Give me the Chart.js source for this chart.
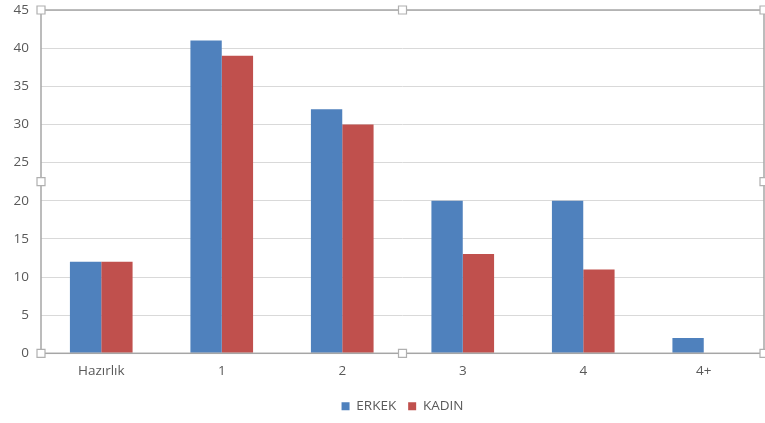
<!DOCTYPE html>
<html><head><meta charset="utf-8">
<script src="https://cdn.jsdelivr.net/npm/chart.js@4"></script>
<style>html,body{margin:0;padding:0;background:#fff;}#wrap{width:765px;height:423px;}</style>
</head><body><div id="wrap"><canvas id="c"></canvas></div>
<script>
const categories = ["Hazırlık", "1", "2", "3", "4", "4+"];
const erkek = [12, 41, 32, 20, 20, 2];
const kadin = [12, 39, 30, 13, 11, 0];
const seriesNames = ["ERKEK", "KADIN"];

const framePlugin = {
  id: 'frame',
  beforeDraw(chart) {
    const a = chart.chartArea, lg = chart.legend;
    if (lg && !lg._shifted) {
      const shift = (a.left + a.right) / 2 - (lg.left + lg.right) / 2;
      lg.left += shift; lg.right += shift; lg._shifted = true;
    }
  },
  afterDraw(chart) {
    const a = chart.chartArea, ctx = chart.ctx;
    ctx.save();
    ctx.strokeStyle = '#a6a6a6';
    ctx.lineWidth = 1.5;
    ctx.strokeRect(a.left, a.top, a.right - a.left, a.bottom - a.top);
    const mx = (a.left + a.right) / 2, my = (a.top + a.bottom) / 2;
    const pts = [[a.left,a.top],[mx,a.top],[a.right,a.top],[a.left,my],[a.right,my],[a.left,a.bottom],[mx,a.bottom],[a.right,a.bottom]];
    ctx.fillStyle = '#fff';
    ctx.strokeStyle = '#b0b0b0';
    ctx.lineWidth = 1.2;
    for (const [x,y] of pts) {
      ctx.beginPath();
      ctx.rect(x - 4, y - 4, 8, 8);
      ctx.fill(); ctx.stroke();
    }
    ctx.restore();
  }
};

const tickFont = { family: 'Open Sans', size: 13.5 };

new Chart(document.getElementById('c'), {
  type: 'bar',
  data: {
    labels: categories,
    datasets: [
      { label: seriesNames[0], data: erkek, backgroundColor: '#4f81bd' },
      { label: seriesNames[1], data: kadin, backgroundColor: '#c0504d' }
    ]
  },
  options: {
    responsive: true,
    maintainAspectRatio: false,
    animation: false,
    layout: { padding: { left: 0, right: 1, top: 10, bottom: 0 } },
    datasets: { bar: { categoryPercentage: 0.52, barPercentage: 1 } },
    plugins: {
      legend: {
        position: 'bottom',
        labels: { boxWidth: 8, boxHeight: 8, color: '#595959', font: { family: 'Open Sans', size: 13.5 }, padding: 12 }
      },
      tooltip: { enabled: false }
    },
    scales: {
      x: {
        afterFit(s) { s.height -= 2; },
        grid: { display: false, drawTicks: false },
        border: { color: '#a6a6a6' },
        ticks: { color: '#595959', font: tickFont, padding: 10 }
      },
      y: {
        min: 0, max: 45,
        afterFit(s) { s.width = 41; s.paddingTop = 0; s.paddingBottom = 0; },
        grid: { color: '#d9d9d9', drawTicks: false },
        border: { display: false },
        ticks: { stepSize: 5, color: '#595959', font: tickFont, padding: 12 }
      }
    }
  },
  plugins: [framePlugin]
});
</script></body></html>
